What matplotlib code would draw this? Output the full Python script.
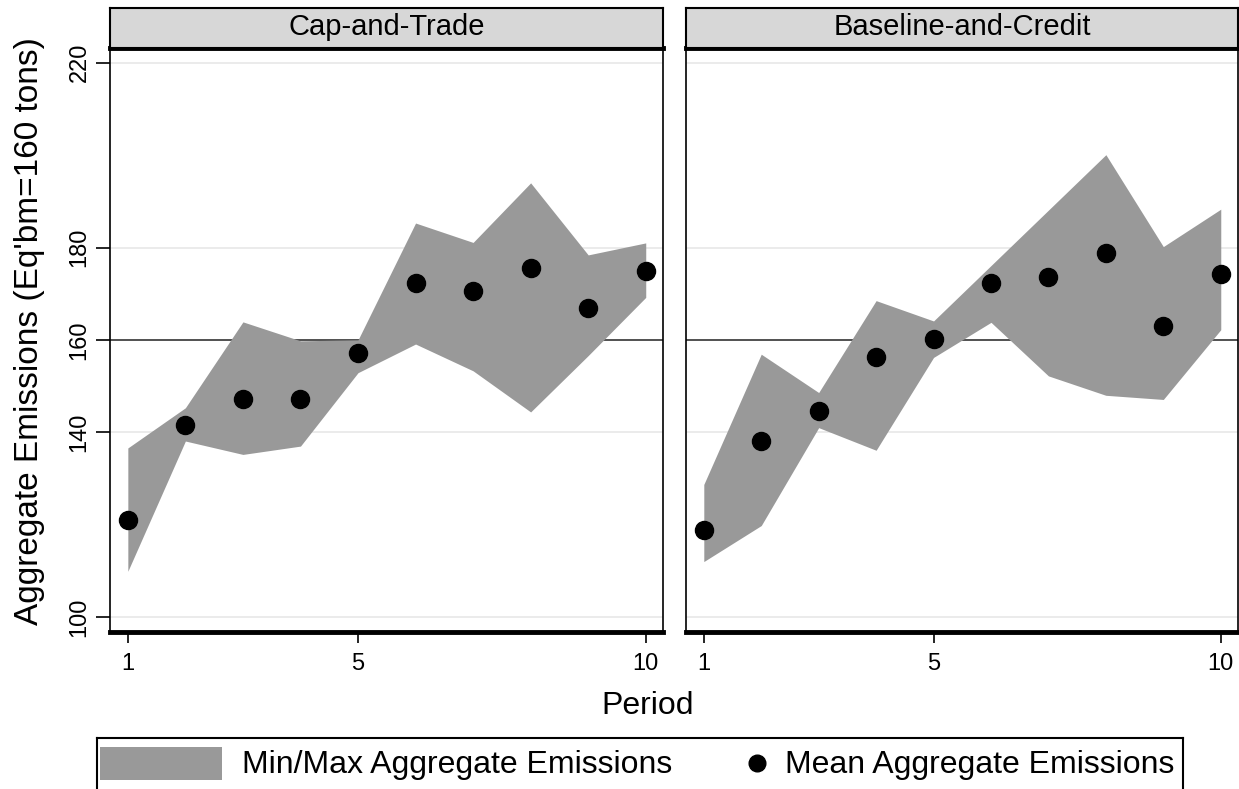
import matplotlib
matplotlib.use("Agg")
import matplotlib.pyplot as plt
from matplotlib.patches import Rectangle
import numpy as np

plt.rcParams['font.family'] = ['Liberation Sans', 'DejaVu Sans']

periods = [1, 2, 3, 4, 5, 6, 7, 8, 9, 10]
panels = ["Cap-and-Trade", "Baseline-and-Credit"]

ct_mean = [121.1, 141.5, 147.1, 147.1, 157.1, 172.3, 170.6, 175.5, 166.8, 175.0]
ct_max = [136.6, 145.3, 163.9, 159.8, 160.0, 185.3, 181.1, 194.0, 178.4, 181.0]
ct_min = [109.9, 138.1, 135.2, 137.0, 152.9, 159.1, 153.3, 144.4, 156.6, 169.2]

bc_mean = [118.9, 138.1, 144.6, 156.3, 160.1, 172.3, 173.7, 178.9, 162.9, 174.2]
bc_max = [128.7, 156.9, 148.6, 168.5, 164.1, 176.1, 188.1, 200.1, 180.2, 188.3]
bc_min = [112.0, 119.8, 141.0, 136.1, 156.2, 163.8, 152.2, 148.0, 147.1, 162.2]

y_ticks = [100, 140, 160, 180, 220]
x_ticks = [1, 5, 10]
eq_line = 160

legend_labels = ["Min/Max Aggregate Emissions", "Mean Aggregate Emissions"]

W, H = 1239, 789
fig = plt.figure(figsize=(W / 100, H / 100), dpi=100)

def fr(x0, y0, x1, y1):
    return [x0 / W, 1 - y1 / H, (x1 - x0) / W, (y1 - y0) / H]

band = "#999999"
strip_col = "#d7d7d7"

data = [(ct_mean, ct_min, ct_max), (bc_mean, bc_min, bc_max)]
xpos = [(110, 663), (686, 1238)]
top, bot = 48, 632

for i, (title, (mean, lo, hi), (x0, x1)) in enumerate(zip(panels, data, xpos)):
    ax = fig.add_axes(fr(x0, top, x1, bot))
    ax.set_xlim(0.69, 10.3)
    ax.set_ylim(96.75, 223.2)
    for g in [100, 140, 180, 220]:
        ax.axhline(g, color="#e8e8e8", lw=1.2, zorder=0)
    ax.axhline(eq_line, color="#333333", lw=1.2, zorder=1)
    ax.fill_between(periods, lo, hi, color=band, lw=0, zorder=2)
    ax.plot(periods, mean, "o", color="black", ms=13, zorder=3)
    ax.set_xticks(x_ticks)
    ax.set_xticklabels([str(t) for t in x_ticks], fontsize=17)
    ax.tick_params(axis="x", length=8, width=1.2, pad=7, color="black")
    ax.set_yticks(y_ticks)
    if i == 0:
        ax.set_yticklabels([str(t) for t in y_ticks], fontsize=17, rotation=90, va="center")
        ax.tick_params(axis="y", length=10, width=1.2, pad=4)
    else:
        ax.tick_params(axis="y", left=False, labelleft=False)
    for s in ["left", "right"]:
        ax.spines[s].set_linewidth(1.2)
    ax.spines["bottom"].set_linewidth(3.5)
    ax.spines["top"].set_linewidth(3.5)
    # strip
    sax = fig.add_axes(fr(x0, 8, x1, top))
    sax.set_facecolor(strip_col)
    sax.set_xticks([]); sax.set_yticks([])
    for s in sax.spines.values():
        s.set_linewidth(1.5)
    sax.text(0.5, 0.52, title, ha="center", va="center", fontsize=21, transform=sax.transAxes)

fig.text(30 / W, 1 - 331 / H, "Aggregate Emissions (Eq'bm=160 tons)", rotation=90,
         ha="center", va="center", fontsize=24)
fig.text(648 / W, 1 - 706 / H, "Period", ha="center", va="center", fontsize=23)

# legend
lax = fig.add_axes(fr(97, 738, 1183, 800))
lax.set_xlim(97, 1183)
lax.set_ylim(800, 738)
lax.set_xticks([]); lax.set_yticks([])
for s in lax.spines.values():
    s.set_linewidth(1.5)
lax.add_patch(Rectangle((100, 747), 122, 33, color=band, lw=0))
lax.text(242, 765, legend_labels[0], ha="left", va="center", fontsize=23)
lax.plot([757], [763], "o", color="black", ms=12)
lax.text(785, 765, legend_labels[1], ha="left", va="center", fontsize=23)

fig.savefig("out.png", dpi=100)
